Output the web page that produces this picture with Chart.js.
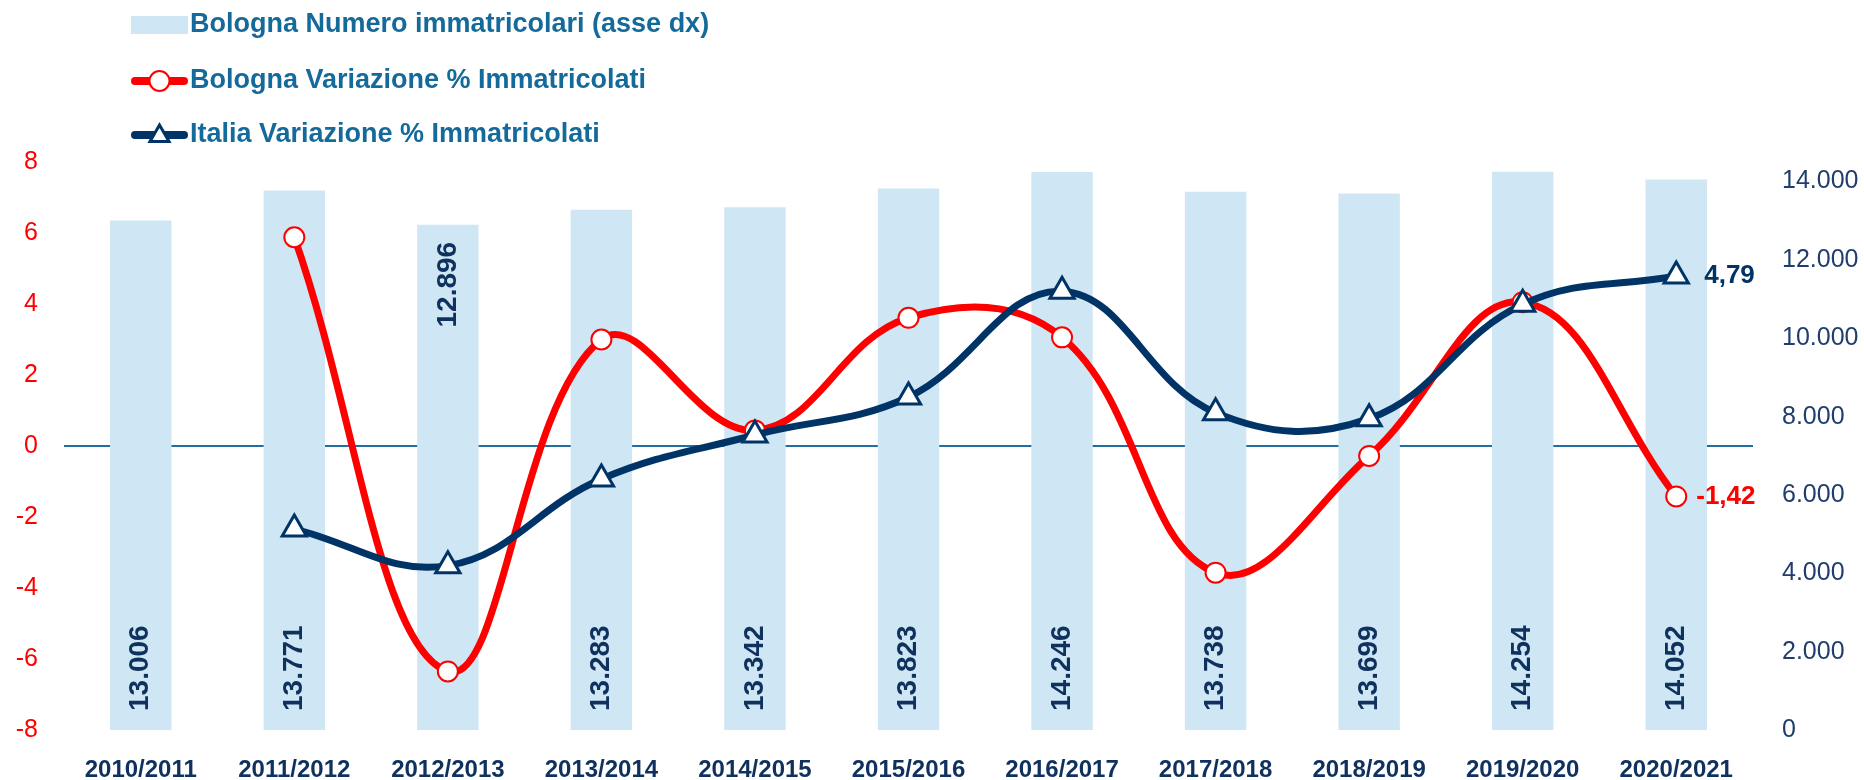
<!DOCTYPE html>
<html>
<head>
<meta charset="utf-8">
<title>Immatricolati Bologna</title>
<script src="https://cdn.jsdelivr.net/npm/chart.js@4.4.0/dist/chart.umd.min.js"></script>
<style>
  html, body { margin: 0; padding: 0; background: #ffffff; }
  #wrap { width: 1864px; height: 780px; }
</style>
</head>
<body>
<div id="wrap"><canvas id="immatricolati_chart" width="1864" height="780"></canvas></div>
<script>
/**
 *
 * Data
 *
 */

const YEARS = ['2010/2011', '2011/2012', '2012/2013', '2013/2014', '2014/2015', '2015/2016',
  '2016/2017', '2017/2018', '2018/2019', '2019/2020', '2020/2021'];

const BOLOGNA_IMMATRICOLATI = [13006, 13771, 12896, 13283, 13342, 13823, 14246, 13738, 13699, 14254, 14052];
const BOLOGNA_VARIAZIONE = [null, 5.88, -6.35, 3.00, 0.44, 3.61, 3.06, -3.57, -0.28, 4.05, -1.42];
const ITALIA_VARIAZIONE = [null, -2.34, -3.37, -0.93, 0.31, 1.38, 4.36, 0.94, 0.77, 3.99, 4.79];

const SERIES_NAMES = [
  'Bologna Numero immatricolari (asse dx)',
  'Bologna Variazione % Immatricolati',
  'Italia Variazione % Immatricolati'
];

const LEFT_TICKS = [-8, -6, -4, -2, 0, 2, 4, 6, 8];
const RIGHT_TICKS = [0, 2000, 4000, 6000, 8000, 10000, 12000, 14000];
const RIGHT_MAX = 14500;

/**
 *
 * Styles
 *
 */

const RED = '#ff0000';
const NAVY = '#003366';
const LABEL_NAVY = '#0f315e';
const AXIS_NAVY = '#1f3d6d';
const BAR_BLUE = '#cfe6f4';
const LEGEND_BLUE = '#146a9a';
const ZERO_LINE = '#1f6fa0';
const FONT = "'Liberation Sans', Arial, sans-serif";
const TOP_LABEL_INDEX = 2;

function thousands(v) {
  return String(v).replace(/\B(?=(\d{3})+(?!\d))/g, '.');
}

function decimal(v) {
  return v.toFixed(2).replace('.', ',');
}

function fixedTicks(values) {
  return scale => { scale.ticks = values.map(v => ({ value: v })); };
}

//
//
// Legend drawn in the top left corner
const legendPlugin = {
  id: 'topLegend',
  afterDraw(chart) {
    const ctx = chart.ctx;
    const x0 = 131, x1 = 188, tx = 190;
    const cx = (x0 + x1) / 2;
    const rows = [25, 81, 135];
    ctx.save();

    ctx.fillStyle = BAR_BLUE;
    ctx.fillRect(x0, rows[0] - 9, x1 - x0, 18);

    ctx.lineCap = 'round';
    ctx.lineWidth = 8;
    ctx.strokeStyle = RED;
    ctx.beginPath(); ctx.moveTo(x0 + 4, rows[1]); ctx.lineTo(x1 - 4, rows[1]); ctx.stroke();
    ctx.fillStyle = '#ffffff';
    ctx.lineWidth = 2;
    ctx.beginPath(); ctx.arc(cx, rows[1], 10, 0, Math.PI * 2); ctx.fill(); ctx.stroke();

    ctx.lineWidth = 8;
    ctx.strokeStyle = NAVY;
    ctx.beginPath(); ctx.moveTo(x0 + 4, rows[2]); ctx.lineTo(x1 - 4, rows[2]); ctx.stroke();
    ctx.lineWidth = 3;
    Chart.helpers.drawPoint(ctx, { pointStyle: 'triangle', radius: 11, borderWidth: 3 }, cx, rows[2] + 1);

    ctx.fillStyle = LEGEND_BLUE;
    ctx.font = 'bold 27px ' + FONT;
    ctx.textAlign = 'left';
    ctx.textBaseline = 'middle';
    SERIES_NAMES.forEach((name, i) => ctx.fillText(name, tx, rows[i]));
    ctx.restore();
  }
};

//
//
// Values written inside the bars and at the end of the lines
const labelPlugin = {
  id: 'valueLabels',
  afterDatasetDraw(chart, args) {
    if (args.index !== 0) return;
    const ctx = chart.ctx;
    ctx.save();
    ctx.fillStyle = LABEL_NAVY;
    ctx.font = 'bold 28px ' + FONT;
    ctx.textBaseline = 'middle';
    args.meta.data.forEach((bar, i) => {
      ctx.save();
      if (i === TOP_LABEL_INDEX) {
        ctx.translate(bar.x, bar.y + 17);
        ctx.rotate(-Math.PI / 2);
        ctx.textAlign = 'right';
      } else {
        ctx.translate(bar.x, bar.base - 19);
        ctx.rotate(-Math.PI / 2);
        ctx.textAlign = 'left';
      }
      ctx.fillText(thousands(BOLOGNA_IMMATRICOLATI[i]), 0, 0);
      ctx.restore();
    });
    ctx.restore();
  },
  afterDatasetsDraw(chart) {
    const ctx = chart.ctx;
    const ends = [[1, RED, 20, BOLOGNA_VARIAZIONE], [2, NAVY, 28, ITALIA_VARIAZIONE]];
    ctx.save();
    ctx.font = 'bold 26px ' + FONT;
    ctx.textAlign = 'left';
    ctx.textBaseline = 'middle';
    ends.forEach(([idx, color, gap, values]) => {
      const pts = chart.getDatasetMeta(idx).data;
      const last = pts[pts.length - 1];
      ctx.fillStyle = color;
      ctx.fillText(decimal(values[values.length - 1]), last.x + gap, last.y);
    });
    ctx.restore();
  }
};

//
//
// Draw Chart
const ctx = document.getElementById('immatricolati_chart').getContext('2d');
new Chart(ctx, {
  data: {
    labels: YEARS,
    datasets: [
      {
        type: 'bar',
        label: SERIES_NAMES[0],
        data: BOLOGNA_IMMATRICOLATI,
        yAxisID: 'y1',
        backgroundColor: BAR_BLUE,
        barPercentage: 0.4,
        categoryPercentage: 1,
        order: 3
      },
      {
        type: 'line',
        label: SERIES_NAMES[1],
        data: BOLOGNA_VARIAZIONE,
        yAxisID: 'y',
        borderColor: RED,
        borderWidth: 7,
        tension: 0.4,
        pointStyle: 'circle',
        pointRadius: 10,
        pointBackgroundColor: '#ffffff',
        pointBorderColor: RED,
        pointBorderWidth: 2,
        order: 2
      },
      {
        type: 'line',
        label: SERIES_NAMES[2],
        data: ITALIA_VARIAZIONE,
        yAxisID: 'y',
        borderColor: NAVY,
        borderWidth: 7,
        tension: 0.4,
        pointStyle: 'triangle',
        pointRadius: 14,
        pointBackgroundColor: '#ffffff',
        pointBorderColor: NAVY,
        pointBorderWidth: 3,
        order: 1
      }
    ]
  },
  options: {
    responsive: false,
    animation: false,
    devicePixelRatio: 1,
    layout: { padding: { top: 162, left: 0, right: 0, bottom: 0 } },
    plugins: {
      legend: { display: false },
      tooltip: { enabled: false }
    },
    scales: {
      x: {
        grid: { display: false },
        border: { display: false },
        ticks: {
          color: LABEL_NAVY,
          font: { family: FONT, size: 24, weight: 'bold' },
          padding: 18,
          maxRotation: 0,
          autoSkip: false
        },
        afterFit: s => { s.height = 50; }
      },
      y: {
        position: 'left',
        min: LEFT_TICKS[0],
        max: LEFT_TICKS[LEFT_TICKS.length - 1],
        border: { display: false },
        grid: {
          drawTicks: false,
          lineWidth: 2,
          color: c => (c.tick && c.tick.value === 0 ? ZERO_LINE : 'rgba(0,0,0,0)')
        },
        ticks: {
          color: RED,
          font: { family: FONT, size: 25 },
          padding: 26,
          callback: v => String(v)
        },
        afterBuildTicks: fixedTicks(LEFT_TICKS),
        afterFit: s => { s.width = 64; }
      },
      y1: {
        position: 'right',
        min: 0,
        max: RIGHT_MAX,
        border: { display: false },
        grid: { display: false, drawTicks: false },
        ticks: {
          color: AXIS_NAVY,
          font: { family: FONT, size: 25 },
          padding: 29,
          callback: v => thousands(v)
        },
        afterBuildTicks: fixedTicks(RIGHT_TICKS),
        afterFit: s => { s.width = 111; }
      }
    }
  },
  plugins: [legendPlugin, labelPlugin]
});
</script>
</body>
</html>
